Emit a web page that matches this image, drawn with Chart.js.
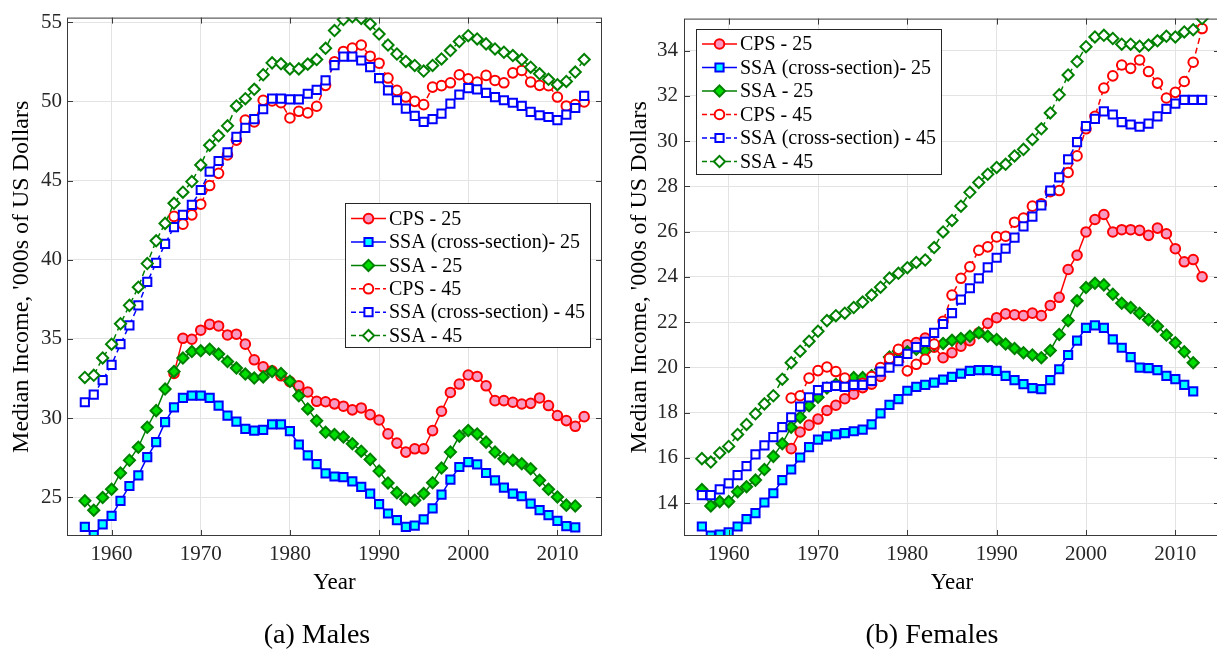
<!DOCTYPE html>
<html>
<head>
<meta charset="utf-8">
<title>Median income by cohort</title>
<script src="https://cdn.jsdelivr.net/npm/chart.js@4/dist/chart.umd.min.js"></script>
<style>
  html, body { margin: 0; padding: 0; background: #fff; overflow: hidden; }
  #wrap { position: relative; width: 1217px; height: 656px; overflow: hidden; }
  canvas { position: absolute; top: 0; }
</style>
</head>
<body>
<div id="wrap">
  <canvas id="males" width="620" height="656" style="left:0"></canvas>
  <canvas id="females" width="620" height="656" style="left:620px"></canvas>
</div>
<script>
// data, '000s of US dollars, one entry per year
const YEARS = [1957, 1958, 1959, 1960, 1961, 1962, 1963, 1964, 1965, 1966, 1967, 1968, 1969, 1970,
  1971, 1972, 1973, 1974, 1975, 1976, 1977, 1978, 1979, 1980, 1981, 1982, 1983, 1984, 1985, 1986,
  1987, 1988, 1989, 1990, 1991, 1992, 1993, 1994, 1995, 1996, 1997, 1998, 1999, 2000, 2001, 2002,
  2003, 2004, 2005, 2006, 2007, 2008, 2009, 2010, 2011, 2012, 2013];

const X_TICKS = [1960, 1970, 1980, 1990, 2000, 2010];
const M_Y_TICKS = [25, 30, 35, 40, 45, 50, 55];
const F_Y_TICKS = [14, 16, 18, 20, 22, 24, 26, 28, 30, 32, 34];

const SERIES_LABELS = ["CPS - 25", "SSA (cross-section)- 25", "SSA - 25",
  "CPS - 45", "SSA (cross-section) - 45", "SSA - 45"];

// males
const M_CPS_25 = [null, null, null, null, null, null, null, null, null, null,
  32.82, 35.04, 34.98, 35.55, 35.92, 35.82, 35.25, 35.3, 34.67, 33.68, 33.24, 32.99, 32.67, 32.3,
  32.04, 31.65, 31.06, 31.03, 30.9, 30.75, 30.52, 30.64, 30.22, 29.88, 29.0, 28.42, 27.85, 28.06,
  28.06, 29.21, 30.43, 31.62, 32.15, 32.72, 32.63, 32.04, 31.1, 31.1, 31.0, 30.89, 30.93, 31.27,
  30.79, 30.16, 29.84, 29.48, 30.09];
const M_SSACS_25 = [23.13, 22.61, 23.28, 23.82, 24.77, 25.71, 26.38, 27.53, 28.48, 29.74, 30.68,
  31.27, 31.42, 31.42, 31.27, 30.79, 30.16, 29.78, 29.32, 29.21, 29.26, 29.6, 29.6, 29.17, 28.33,
  27.64, 27.09, 26.5, 26.31, 26.27, 26.0, 25.65, 25.23, 24.56, 23.97, 23.55, 23.13, 23.2, 23.6,
  24.29, 25.17, 26.11, 26.91, 27.22, 27.08, 26.53, 26.07, 25.61, 25.23, 25.06, 24.6, 24.18, 23.87,
  23.51, 23.18, 23.1, null];
const M_SSA_25 = [24.77, 24.18, 24.98, 25.5, 26.53, 27.33, 28.16, 29.42, 30.47, 31.83, 32.94,
  33.79, 34.2, 34.25, 34.35, 34.04, 33.57, 33.16, 32.78, 32.53, 32.6, 32.94, 32.82, 32.32, 31.41,
  30.58, 29.83, 29.1, 28.96, 28.81, 28.38, 27.91, 27.39, 26.65, 25.9, 25.29, 24.87, 24.81, 25.23,
  25.92, 26.84, 27.85, 28.86, 29.21, 29.0, 28.48, 27.85, 27.43, 27.33, 27.12, 26.8, 26.07, 25.5,
  25.02, 24.5, 24.45, null];
const M_CPS_45 = [null, null, null, null, null, null, null, null, null, null,
  42.74, 42.25, 42.84, 43.51, 44.69, 45.46, 46.62, 47.56, 48.82, 48.71, 50.08, 50.03, 49.92, 48.96,
  49.38, 49.28, 49.7, 51.02, 52.5, 53.16, 53.37, 53.57, 52.86, 52.42, 51.48, 50.7, 50.28, 50.01,
  49.8, 50.91, 51.0, 51.18, 51.69, 51.43, 51.23, 51.65, 51.33, 51.18, 51.81, 51.96, 51.23, 51.02,
  51.0, 50.28, 49.72, 49.8, 49.97];
const M_SSACS_45 = [31.0, 31.48, 32.4, 33.36, 34.67, 35.86, 37.12, 38.6, 39.8, 41.0, 42.06, 42.84,
  43.47, 44.41, 45.57, 46.24, 46.78, 47.77, 48.33, 48.88, 49.51, 50.18, 50.18, 50.14, 50.14, 50.49,
  50.74, 51.33, 52.3, 52.83, 52.83, 52.59, 52.17, 51.48, 50.7, 50.08, 49.55, 49.09, 48.71, 48.88,
  49.23, 49.86, 50.43, 50.85, 50.77, 50.55, 50.28, 50.08, 49.92, 49.72, 49.34, 49.13, 49.02, 48.82,
  49.17, 49.59, 50.35];
const M_SSA_45 = [32.57, 32.7, 33.8, 34.67, 35.96, 37.12, 38.27, 39.76, 41.2, 42.3, 43.57, 44.27,
  44.94, 45.99, 47.24, 47.83, 48.46, 49.72, 50.18, 50.77, 51.69, 52.44, 52.38, 52.06, 52.06, 52.36,
  52.65, 53.36, 54.48, 55.18, 55.35, 55.25, 54.9, 54.26, 53.57, 53.0, 52.53, 52.28, 51.92, 52.28,
  52.69, 53.22, 53.79, 54.16, 53.95, 53.64, 53.32, 53.11, 52.9, 52.65, 52.17, 51.75, 51.4, 51.06,
  51.27, 51.86, 52.65];

// females
const F_CPS_25 = [null, null, null, null, null, null, null, null, null, null,
  16.41, 17.15, 17.45, 17.72, 18.1, 18.33, 18.62, 18.82, 19.11, 19.26, 19.6, 20.2, 20.6, 21.0,
  21.1, 21.3, 20.9, 20.43, 20.65, 20.94, 21.18, 21.53, 21.95, 22.2, 22.37, 22.33, 22.29, 22.4,
  22.29, 22.74, 23.1, 24.33, 24.96, 25.99, 26.54, 26.76, 25.99, 26.09, 26.09, 26.06, 25.84, 26.16,
  25.91, 25.25, 24.67, 24.77, 24.01];
const F_SSACS_25 = [12.97, 12.57, 12.61, 12.71, 12.97, 13.3, 13.56, 14.03, 14.44, 15.02, 15.49,
  16.02, 16.48, 16.81, 16.95, 17.04, 17.1, 17.18, 17.25, 17.48, 17.97, 18.35, 18.6, 18.97, 19.14,
  19.23, 19.33, 19.46, 19.58, 19.73, 19.85, 19.88, 19.88, 19.85, 19.63, 19.44, 19.26, 19.09, 19.04,
  19.44, 19.92, 20.55, 21.19, 21.75, 21.86, 21.75, 21.24, 20.87, 20.46, 19.99, 19.97, 19.88, 19.63,
  19.48, 19.23, 18.94, null];
const F_SSA_25 = [14.6, 13.88, 14.07, 14.07, 14.51, 14.73, 15.02, 15.49, 16.07, 16.63, 17.36, 17.8,
  18.31, 18.68, 19.09, 19.26, 19.41, 19.55, 19.55, 19.63, 19.92, 20.46, 20.72, 20.69, 20.8, 20.72,
  21.0, 21.06, 21.2, 21.28, 21.38, 21.53, 21.38, 21.24, 21.04, 20.84, 20.65, 20.55, 20.43, 20.75,
  21.46, 22.07, 22.95, 23.53, 23.72, 23.65, 23.24, 22.84, 22.65, 22.4, 22.11, 21.82, 21.43, 21.09,
  20.69, 20.21, null];
const F_CPS_45 = [null, null, null, null, null, null, null, null, null, null,
  18.65, 18.75, 19.53, 19.86, 20.02, 19.82, 19.53, 19.2, 19.3, 19.6, 20.0, 20.4, 20.8, 19.85,
  20.14, 20.36, 21.03, 22.04, 23.2, 23.94, 24.45, 25.18, 25.33, 25.77, 25.8, 26.42, 26.6, 27.13,
  27.23, 27.77, 27.82, 28.62, 29.35, 30.55, 31.1, 32.35, 32.89, 33.37, 33.22, 33.59, 33.08, 32.57,
  31.91, 32.16, 32.64, 33.49, 34.98];
const F_SSACS_45 = [14.36, 14.36, 14.61, 14.88, 15.24, 15.64, 16.16, 16.56, 16.92, 17.36, 17.8,
  18.27, 18.68, 19.0, 19.14, 19.19, 19.14, 19.23, 19.23, 19.41, 19.82, 19.99, 20.28, 20.6, 20.9,
  21.13, 21.53, 21.92, 22.4, 23.0, 23.5, 23.94, 24.42, 24.85, 25.25, 25.74, 26.24, 26.67, 27.16,
  27.82, 28.4, 29.2, 29.96, 30.67, 30.99, 31.32, 31.18, 30.84, 30.74, 30.64, 30.78, 31.1, 31.43,
  31.66, 31.83, 31.83, 31.83];
const F_SSA_45 = [15.97, 15.82, 16.22, 16.51, 17.04, 17.48, 17.95, 18.39, 18.75, 19.48, 20.21,
  20.72, 21.16, 21.6, 22.07, 22.29, 22.4, 22.65, 22.89, 23.2, 23.55, 23.95, 24.16, 24.41, 24.64,
  24.75, 25.3, 25.99, 26.5, 27.13, 27.74, 28.18, 28.54, 28.84, 28.98, 29.35, 29.64, 30.08, 30.55,
  31.25, 32.05, 32.93, 33.52, 34.18, 34.61, 34.68, 34.54, 34.29, 34.29, 34.2, 34.25, 34.44, 34.64,
  34.61, 34.83, 34.93, 35.42];

const FONT = "'Liberation Serif', 'Times New Roman', serif";

// marker / line look for each of the six series
const STYLES = [
  { color: "#ff0000", fill: "#f799c0", point: "circle", r: 4.8, dash: [] },
  { color: "#0000ff", fill: "#00ffff", point: "rect", r: 5.8, dash: [] },
  { color: "#008000", fill: "#00dd00", point: "rectRot", r: 5.6, dash: [] },
  { color: "#ff0000", fill: "#ffffff", point: "circle", r: 4.8, dash: [6, 4] },
  { color: "#0000ff", fill: "#ffffff", point: "rect", r: 5.8, dash: [6, 4] },
  { color: "#008000", fill: "#ffffff", point: "rectRot", r: 5.6, dash: [6, 4] },
];

function toPoints(vals) {
  return YEARS.map((yr, i) => ({ x: yr, y: vals[i] }));
}

function buildDatasets(seriesList) {
  return seriesList.map((vals, i) => {
    const s = STYLES[i];
    return {
      label: SERIES_LABELS[i],
      data: toPoints(vals),
      borderColor: s.color,
      backgroundColor: s.fill,
      borderWidth: 1.5,
      borderDash: s.dash,
      pointStyle: s.point,
      pointRadius: s.r,
      pointBorderWidth: 2,
      pointBorderColor: s.color,
      pointBackgroundColor: s.fill,
      fill: false,
      tension: 0,
      spanGaps: false,
      order: 10 - i,
    };
  });
}

// frame, inward ticks, titles, caption and the boxed legend
const decor = {
  id: "decor",
  afterDatasetsDraw(chart, args, opts) {
    const ctx = chart.ctx;
    const a = chart.chartArea;
    const xs = chart.scales.x, ys = chart.scales.y;
    ctx.save();

    ctx.strokeStyle = "#3a3a3a";
    ctx.lineWidth = 1;
    ctx.setLineDash([]);
    ctx.strokeRect(a.left + 0.5, a.top + 0.5, a.right - a.left - 1, a.bottom - a.top - 1);
    const tl = 6;
    ctx.beginPath();
    xs.ticks.forEach(t => {
      const px = Math.round(xs.getPixelForValue(t.value)) + 0.5;
      ctx.moveTo(px, a.bottom); ctx.lineTo(px, a.bottom - tl);
      ctx.moveTo(px, a.top); ctx.lineTo(px, a.top + tl);
    });
    ys.ticks.forEach(t => {
      const py = Math.round(ys.getPixelForValue(t.value)) + 0.5;
      ctx.moveTo(a.left, py); ctx.lineTo(a.left + tl, py);
      ctx.moveTo(a.right, py); ctx.lineTo(a.right - tl, py);
    });
    ctx.stroke();

    // legend
    const lg = opts.legend;
    ctx.fillStyle = "#ffffff";
    ctx.fillRect(lg.x, lg.y, lg.w, lg.h);
    ctx.strokeStyle = "#262626";
    ctx.strokeRect(lg.x + 0.5, lg.y + 0.5, lg.w, lg.h);
    ctx.font = "20px " + FONT;
    ctx.textBaseline = "middle";
    ctx.textAlign = "left";
    chart.data.datasets.forEach((ds, i) => {
      const s = STYLES[i];
      const y = lg.y + lg.first + i * lg.step;
      ctx.strokeStyle = s.color;
      ctx.lineWidth = 1.5;
      ctx.setLineDash(s.dash.length ? [5, 3] : []);
      ctx.beginPath();
      ctx.moveTo(lg.x + 6, y);
      ctx.lineTo(lg.x + 41, y);
      ctx.stroke();
      ctx.setLineDash([]);
      ctx.fillStyle = s.fill;
      ctx.lineWidth = 2;
      Chart.helpers.drawPoint(ctx, { pointStyle: s.point, radius: s.r, rotation: 0, borderWidth: 2 },
        lg.x + 23.5, y);
      ctx.fillStyle = "#000000";
      ctx.fillText(ds.label, lg.x + 44, y + 1);
    });

    // titles
    ctx.fillStyle = "#000000";
    ctx.textAlign = "center";
    ctx.font = "23px " + FONT;
    ctx.fillText("Year", (a.left + a.right) / 2, opts.yearY);
    ctx.font = "28px " + FONT;
    ctx.fillText(opts.caption, opts.captionX, opts.captionY);
    ctx.translate(opts.yTitleX, (a.top + a.bottom) / 2);
    ctx.rotate(-Math.PI / 2);
    ctx.font = "24px " + FONT;
    ctx.fillText("Median Income, '000s of US Dollars", 0, 0);
    ctx.restore();
  },
};

function makeChart(canvasId, seriesList, cfg) {
  const canvas = document.getElementById(canvasId);
  const H = canvas.height, W = canvas.width;
  return new Chart(canvas.getContext("2d"), {
    type: "line",
    data: { datasets: buildDatasets(seriesList) },
    options: {
      responsive: false,
      animation: false,
      devicePixelRatio: 1,
      events: [],
      layout: { padding: { left: 0, top: cfg.top, right: W - cfg.right, bottom: 0 } },
      scales: {
        x: {
          type: "linear",
          min: 1955,
          max: 2015,
          afterFit: (s) => { s.height = H - cfg.bottom; },
          afterBuildTicks: (s) => { s.ticks = X_TICKS.map(v => ({ value: v })); },
          grid: { color: "#e3e3e3", drawTicks: false },
          border: { display: false },
          ticks: {
            autoSkip: false,
            maxRotation: 0,
            padding: 6,
            color: "#262626",
            font: { family: FONT, size: 21 },
            callback: (v) => String(v),
          },
        },
        y: {
          type: "linear",
          min: cfg.yMin,
          max: cfg.yMax,
          afterFit: (s) => { s.width = cfg.left; },
          afterBuildTicks: (s) => { s.ticks = cfg.yTicks.map(v => ({ value: v })); },
          grid: { color: "#e3e3e3", drawTicks: false },
          border: { display: false },
          ticks: {
            autoSkip: false,
            padding: cfg.yPad,
            color: "#262626",
            font: { family: FONT, size: 21 },
            callback: (v) => String(v),
          },
        },
      },
      plugins: {
        legend: { display: false },
        tooltip: { enabled: false },
        decor: cfg.decor,
      },
    },
    plugins: [decor],
  });
}

makeChart("males", [M_CPS_25, M_SSACS_25, M_SSA_25, M_CPS_45, M_SSACS_45, M_SSA_45], {
  left: 67, right: 602, top: 15, bottom: 536,
  yMin: 22.55, yMax: 55.3, yTicks: M_Y_TICKS, yPad: 5,
  decor: {
    legend: { x: 345, y: 203, w: 245, h: 144, first: 15.6, step: 23.4 },
    yearY: 583, caption: "(a) Males", captionX: 317, captionY: 636, yTitleX: 22,
  },
});

makeChart("females", [F_CPS_25, F_SSACS_25, F_SSA_25, F_CPS_45, F_SSACS_45, F_SSA_45], {
  left: 64, right: 600, top: 15, bottom: 536,
  yMin: 12.55, yMax: 35.42, yTicks: F_Y_TICKS, yPad: 6,
  decor: {
    legend: { x: 76, y: 29, w: 245, h: 145, first: 15, step: 23.5 },
    yearY: 583, caption: "(b) Females", captionX: 312, captionY: 636, yTitleX: 20,
  },
});
</script>
</body>
</html>
